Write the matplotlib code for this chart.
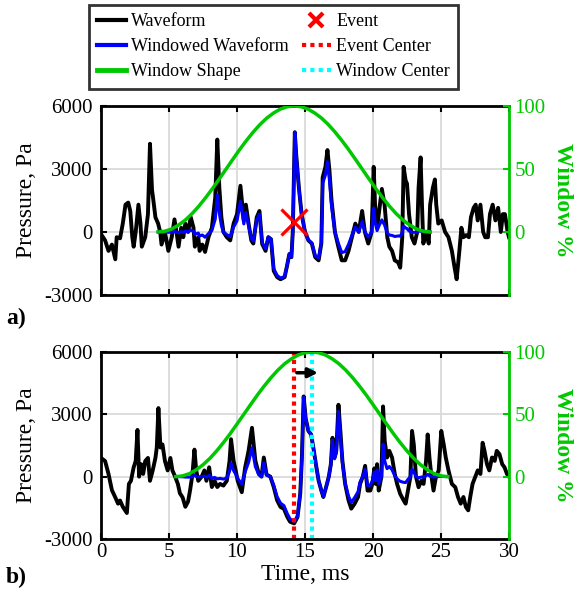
import numpy as np
import matplotlib
matplotlib.use('Agg')
import matplotlib.pyplot as plt
from matplotlib.lines import Line2D

plt.rcParams['font.family'] = ['Liberation Serif', 'DejaVu Serif']
plt.rcParams['axes.unicode_minus'] = False

# panel a) waveform, time in ms, pressure in Pa
t_a = [0, 0.3, 0.55, 0.8, 1.05, 1.15, 1.4, 1.6, 1.8, 2.0,
       2.15, 2.3, 2.4, 2.55, 2.75, 2.9, 3.0, 3.25, 3.45, 3.6,
       3.75, 3.85, 4.0, 4.2, 4.35, 4.45, 4.7, 4.95, 5.2, 5.4,
       5.55, 5.7, 5.9, 6.05, 6.2, 6.4, 6.6, 6.8, 6.9, 7.15,
       7.25, 7.45, 7.65, 7.9, 8.15, 8.4, 8.55, 8.7, 8.85, 9.0,
       9.25, 9.5, 9.75, 10.0, 10.25, 10.5, 10.65, 10.85, 11.05, 11.2,
       11.45, 11.65, 11.85, 12.1, 12.3, 12.5, 12.7, 12.95, 13.2, 13.5,
       13.65, 13.85, 14.0, 14.1, 14.25, 14.35, 14.55, 14.75, 15.0, 15.25,
       15.5, 15.75, 16.0, 16.2, 16.3, 16.5, 16.65, 16.8, 16.95, 17.2,
       17.45, 17.7, 17.95, 18.2, 18.45, 18.7, 18.95, 19.2, 19.4, 19.65,
       19.9, 20.05, 20.15, 20.3, 20.45, 20.65, 20.85, 21.05, 21.2, 21.4,
       21.6, 21.85, 22.0, 22.15, 22.25, 22.4, 22.5, 22.65, 22.85, 23.05,
       23.25, 23.35, 23.5, 23.6, 23.7, 23.9, 24.1, 24.2, 24.4, 24.55,
       24.65, 24.8, 25.05, 25.3, 25.55, 25.8, 26.0, 26.15, 26.35, 26.5,
       26.65, 26.85, 27.05, 27.2, 27.4, 27.55, 27.7, 27.9, 28.1, 28.25,
       28.45, 28.6, 28.8, 29.0, 29.2, 29.4, 29.55, 29.7, 29.9, 30.0]
p_a = [-100, -400, -900, -600, -1300, -250, -300, 400, 1300, 1400,
       1000, -250, -700, 0, 1300, 400, -700, -250, 850, 4200,
       2000, 1500, 700, 400, 0, -600, 0, -900, -250, 600,
       0, -700, 200, -250, 400, 0, 700, 200, -700, -250,
       -900, -600, -950, -250, 200, 1650, 4400, 2100, 700, 0,
       -250, -400, 400, 850, 2200, 550, 1300, 400, -400, -550,
       700, 1000, -570, -900, -250, -350, -1850, -2150, -2250, -2150,
       -1700, -1050, -1200, 0, 4750, 3700, 2100, 850, 0, -400,
       -550, -1200, -1350, -550, 2600, 3100, 3900, 2900, 1500, 0,
       -700, -1350, -1350, -900, -250, 400, 0, 1000, 0, -550,
       0, 3100, 1300, 200, 1000, 2050, 1300, -250, -700, -900,
       -1350, -1450, -1700, -250, 3100, 2450, 2300, 850, -250, -550,
       0, 2100, 3550, 1300, -550, 0, -550, 1300, 2100, 2500,
       1300, 400, 550, 0, -250, -900, -1700, -2250, -900, 200,
       -250, -150, -250, 700, 1150, 1300, 550, 1300, 0, -250,
       -250, 850, 1300, 550, 1150, 0, 850, 850, 0, -250]

# panel b) waveform
t_b = [0, 0.3, 0.55, 0.8, 1.05, 1.25, 1.4, 1.6, 1.75, 1.9,
       2.05, 2.2, 2.4, 2.55, 2.68, 2.8, 2.95, 3.1, 3.25, 3.45,
       3.6, 3.8, 4.0, 4.1, 4.22, 4.37, 4.52, 4.7, 4.9, 5.1,
       5.25, 5.45, 5.65, 5.8, 6.0, 6.2, 6.4, 6.55, 6.72, 6.87,
       7.0, 7.15, 7.4, 7.6, 7.75, 7.95, 8.15, 8.35, 8.55, 8.75,
       9.0, 9.25, 9.45, 9.56, 9.75, 9.9, 10.05, 10.35, 10.6, 10.85,
       11.1, 11.35, 11.6, 11.8, 11.97, 12.17, 12.45, 12.7, 12.95, 13.2,
       13.45, 13.7, 13.9, 14.2, 14.45, 14.65, 14.77, 14.9, 15.05, 15.25,
       15.45, 15.65, 15.8, 16.0, 16.2, 16.35, 16.55, 16.75, 16.9, 17.02,
       17.17, 17.3, 17.46, 17.6, 17.75, 17.95, 18.2, 18.4, 18.65, 18.9,
       19.05, 19.25, 19.42, 19.6, 19.8, 19.95, 20.1, 20.2, 20.3, 20.42,
       20.62, 20.74, 20.86, 21.03, 21.2, 21.4, 21.6, 21.77, 22.0, 22.25,
       22.4, 22.57, 22.75, 22.87, 23.0, 23.16, 23.35, 23.55, 23.72, 23.9,
       24.02, 24.15, 24.3, 24.45, 24.63, 24.83, 25.02, 25.2, 25.35, 25.55,
       25.8, 26.05, 26.25, 26.45, 26.65, 26.83, 27.0, 27.15, 27.32, 27.52,
       27.7, 27.9, 28.06, 28.2, 28.38, 28.55, 28.75, 28.95, 29.1, 29.3,
       29.5, 29.67, 29.85, 30.0]
p_b = [900, 750, 130, -650, -1000, -1300, -1150, -1450, -1600, -1750,
       -350, -200, 450, 750, 2250, 0, 600, 130, 750, 900,
       -200, 300, 900, 1400, 3300, 1400, 1550, 750, 300, 900,
       300, 0, -350, -800, -1000, -1450, -1200, -650, 100, 1300,
       300, -200, 0, 300, -200, 450, -500, -200, -500, -350,
       -430, -200, 750, 1800, 750, 300, -200, -750, 450, 1240,
       2350, 760, 140, 0, 920, 100, 0, -500, -1140, -1460,
       -1550, -1940, -2170, -2250, -1940, -820, 920, 3860, 2800, 2200,
       2030, 1240, 600, -190, -670, -980, -510, 0, 600, 1870,
       920, 1240, 3460, 2200, 760, -350, -1140, -1540, -1300, -980,
       -350, 0, 520, -670, -670, -350, 400, -350, 600, -670,
       0, 3380, 1710, 920, 1240, 920, 130, -350, -830, -1140,
       -1300, -670, 0, 2200, 1550, 0, -510, -200, -350, 760,
       2030, 920, 0, -670, 0, 300, 2200, 1550, 920, 300,
       -350, -510, -980, -1300, -980, -1460, -1620, -980, -350, 0,
       300, 130, 1630, 1240, 600, 300, 920, 760, 1240, 1080,
       600, 450, 130, 0]

# window shape (%), sampled every 0.5 ms from window start
win_pct = [0, 0.6, 2.4, 5.5, 9.5, 14.6, 20.6, 27.3, 34.5, 42.2,
           50, 57.8, 65.5, 72.7, 79.4, 85.4, 90.5, 94.5, 97.6, 99.4,
           100, 99.4, 97.6, 94.5, 90.5, 85.4, 79.4, 72.7, 65.5, 57.8,
           50, 42.2, 34.5, 27.3, 20.6, 14.6, 9.5, 5.5, 2.4, 0.6, 0]
win_len = 20.0
win_start_a = 4.2
win_start_b = 5.5

event_t = 14.2
event_p = 460
event_center = 14.2
window_center = 15.5
arrow_x = [14.4, 15.95]
arrow_y = 5000

BLUE = '#0000ff'
GREEN = '#00c800'
GRID = '#dadada'


def windowed(t, p, start):
    t = np.asarray(t, float)
    p = np.asarray(p, float)
    wt = start + np.linspace(0, win_len, len(win_pct))
    m = (t >= start) & (t <= start + win_len)
    w = np.interp(t[m], wt, win_pct) / 100.0
    return wt, t[m], p[m] * w


def setup(ax, ax2, show_x):
    ax.set_xlim(0, 30)
    ax.set_ylim(-3000, 6000)
    ax.set_xticks(np.arange(0, 31, 5))
    ax.set_yticks([-3000, 0, 3000, 6000])
    ax.grid(True, color=GRID, lw=1.3)
    ax.set_axisbelow(True)
    ax.tick_params(direction='in', length=4, width=1.5, top=True,
                   right=False, labelsize=15, pad=6)
    ax.tick_params(axis='x', pad=3)
    if not show_x:
        ax.set_xticklabels([])
    for s in ['left', 'top', 'bottom']:
        ax.spines[s].set_linewidth(2)
    ax.spines['right'].set_visible(False)
    ax.set_ylabel('Pressure, Pa', fontsize=17, labelpad=5)

    ax2.set_ylim(-50, 100)
    ax2.set_yticks([0, 50, 100])
    ax2.tick_params(direction='in', length=4, width=1.5, colors=GREEN,
                    labelsize=15, pad=4)
    for s in ['left', 'top', 'bottom']:
        ax2.spines[s].set_visible(False)
    ax2.spines['right'].set_color(GREEN)
    ax2.spines['right'].set_linewidth(2)
    ax2.set_ylabel('Window %', color=GREEN, fontsize=17, fontweight='bold',
                   rotation=270, labelpad=20)


fig = plt.figure(figsize=(5.86, 5.98), dpi=100)
ax_a = fig.add_axes([0.1724, 0.5067, 0.6962, 0.3161])
ax_b = fig.add_axes([0.1724, 0.0987, 0.6962, 0.3127])
ax_a2 = ax_a.twinx()
ax_b2 = ax_b.twinx()

# panel a
wt, tb, pb = windowed(t_a, p_a, win_start_a)
ax_a.plot(t_a, p_a, color='k', lw=2.8)
ax_a.plot(tb, pb, color=BLUE, lw=2.2)
ax_a.plot(event_t, event_p, 'x', color='red', ms=19, mew=2.3)
ax_a2.plot(wt, win_pct, color=GREEN, lw=2.5)
setup(ax_a, ax_a2, False)

# panel b
wt, tb, pb = windowed(t_b, p_b, win_start_b)
ax_b.plot(t_b, p_b, color='k', lw=2.8)
ax_b.plot(tb, pb, color=BLUE, lw=2.2)
ax_b.axvline(event_center, color='red', lw=3, ls=(0, (1, 1)))
ax_b.axvline(window_center, color='cyan', lw=3, ls=(0, (1, 1)))
ax_b.annotate('', xy=(arrow_x[1], arrow_y), xytext=(arrow_x[0], arrow_y),
              arrowprops=dict(arrowstyle='-|>', color='k', lw=2.5,
                              mutation_scale=14, shrinkA=0, shrinkB=0))
ax_b2.plot(wt, win_pct, color=GREEN, lw=2.5)
setup(ax_b, ax_b2, True)
ax_b.set_xlabel('Time, ms', fontsize=17, labelpad=1)

fig.text(6 / 586, 1 - 318 / 598, 'a)', fontsize=17, fontweight='bold',
         va='center')
fig.text(6 / 586, 1 - 577 / 598, 'b)', fontsize=17, fontweight='bold',
         va='center')

handles = [Line2D([], [], color='k', lw=3),
           Line2D([], [], color=BLUE, lw=3),
           Line2D([], [], color=GREEN, lw=3.5),
           Line2D([], [], ls='none', marker='x', color='red', ms=10, mew=3),
           Line2D([], [], color='red', lw=3, ls=(0, (1, 1))),
           Line2D([], [], color='cyan', lw=3, ls=(0, (1, 1)))]
labels = ['Waveform', 'Windowed Waveform', 'Window Shape',
          'Event', 'Event Center', 'Window Center']
leg = fig.legend(handles, labels, ncol=2, loc='upper left',
                 bbox_to_anchor=(89 / 586, 1 - 5 / 598), fontsize=13,
                 frameon=True, fancybox=False, handlelength=1.6,
                 handletextpad=0.3, labelspacing=0.45, columnspacing=0.7,
                 borderpad=0.45, borderaxespad=0)
leg.get_frame().set_edgecolor('k')
leg.get_frame().set_linewidth(2)

fig.savefig('out.png', dpi=100)
